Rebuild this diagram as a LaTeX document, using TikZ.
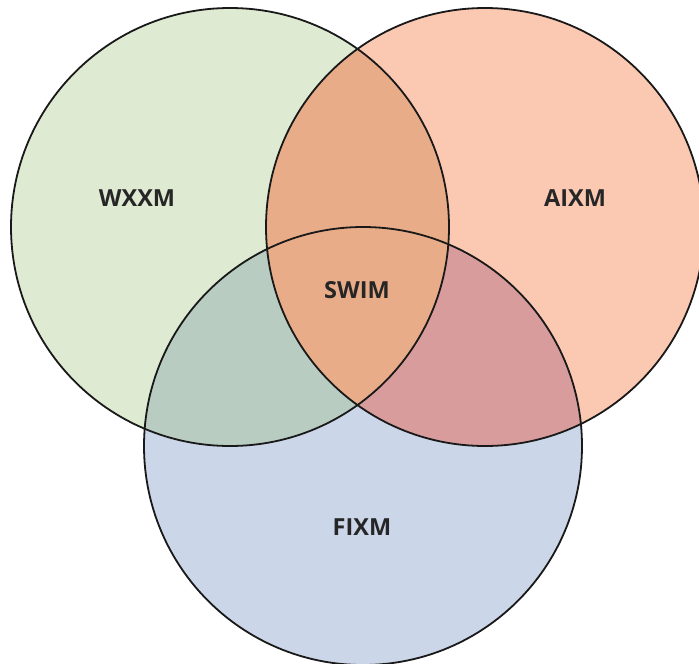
\documentclass[tikz,border=0pt]{standalone}
\usepackage{fontspec}
\setmainfont{Open Sans}
\definecolor{wxxmfill}{HTML}{DFEAD2}
\definecolor{aixmfill}{HTML}{FBC8B2}
\definecolor{fixmfill}{HTML}{CBD6E9}
\definecolor{topfill}{HTML}{E8AD88}
\definecolor{leftfill}{HTML}{B8CCC2}
\definecolor{rightfill}{HTML}{D89C9C}
\tikzset{
  ring/.style={draw=black!90, line width=1.8pt},
  setlabel/.style={font=\fontsize{23.5}{28}\selectfont\bfseries, text=black!85, inner sep=0pt}
}
\begin{document}
\begin{tikzpicture}[x=1pt, y=-1pt]
  \useasboundingbox (0,0) rectangle (699,664);
  \coordinate (cw) at (230,227);
  \coordinate (ca) at (485,227);
  \coordinate (cf) at (363,446);
  \def\rr{219}
  % single-set areas
  \fill[wxxmfill] (cw) circle (\rr);
  \fill[aixmfill] (ca) circle (\rr);
  \fill[fixmfill] (cf) circle (\rr);
  % pairwise overlaps
  \begin{scope}
    \clip (cw) circle (\rr);
    \fill[leftfill] (cf) circle (\rr);
  \end{scope}
  \begin{scope}
    \clip (ca) circle (\rr);
    \fill[rightfill] (cf) circle (\rr);
  \end{scope}
  \begin{scope}
    \clip (cw) circle (\rr);
    \fill[topfill] (ca) circle (\rr);
  \end{scope}
  % outlines
  \draw[ring] (cw) circle (\rr);
  \draw[ring] (ca) circle (\rr);
  \draw[ring] (cf) circle (\rr);
  % labels
  \node[setlabel] (wxxm) at (137,198) {WXXM};
  \node[setlabel] (aixm) at (575,198) {AIXM};
  \node[setlabel] (swim) at (357,290) {SWIM};
  \node[setlabel] (fixm) at (362,527) {FIXM};
\end{tikzpicture}
\end{document}
